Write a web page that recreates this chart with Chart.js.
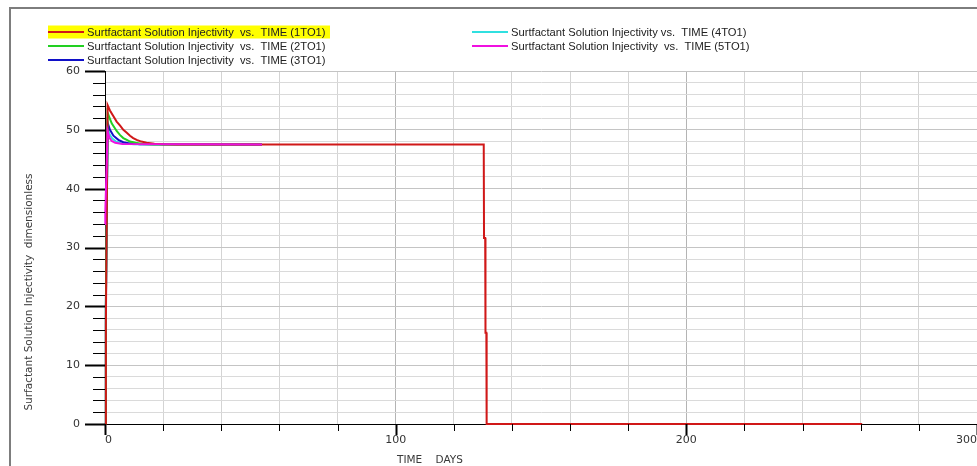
<!DOCTYPE html>
<html>
<head>
<meta charset="utf-8">
<script src="https://cdn.jsdelivr.net/npm/chart.js@4.4.1/dist/chart.umd.min.js"></script>
<style>
  html, body { margin: 0; padding: 0; background: #fff; }
  #wrap { position: relative; width: 977px; height: 466px; }
</style>
</head>
<body>
<div id="wrap"><canvas id="chart"></canvas></div>
<script>
// series labels and colours (as shown in the legend)
const seriesNames = [
  'Surtfactant Solution Injectivity  vs.  TIME (1TO1)',
  'Surtfactant Solution Injectivity  vs.  TIME (2TO1)',
  'Surtfactant Solution Injectivity  vs.  TIME (3TO1)',
  'Surtfactant Solution Injectivity vs.  TIME (4TO1)',
  'Surtfactant Solution Injectivity  vs.  TIME (5TO1)'
];
const seriesColors = ['#d01818', '#22d022', '#1010c8', '#30e0e0', '#f010e0'];

// 1TO1 - runs to the end of injection, then drops to zero
const days1 = [0, 0.3, 0.9, 1.7, 2.9, 4.0, 5.2, 6.3, 7.5, 8.6, 9.7, 10.9, 12.5, 14.3, 17, 20, 25, 130.3, 130.4, 130.8, 130.9, 131.2, 131.3, 260.5];
const inj1  = [0, 17, 54.2, 53.3, 52.3, 51.4, 50.7, 50.0, 49.5, 49.0, 48.6, 48.3, 48.0, 47.8, 47.65, 47.55, 47.5, 47.5, 31.6, 31.6, 15.5, 15.5, 0, 0];

// 2TO1
const days2 = [0, 0.3, 0.9, 2.3, 4.0, 5.2, 6.3, 7.5, 8.6, 10.5, 13, 17, 54];
const inj2  = [0, 20, 52.9, 51.1, 49.8, 49.1, 48.6, 48.3, 48.0, 47.8, 47.6, 47.5, 47.5];

// 3TO1
const days3 = [0, 0.3, 0.9, 1.7, 2.9, 4.6, 6.3, 8.5, 12, 54];
const inj3  = [0, 20, 51.2, 50.0, 49.0, 48.3, 47.9, 47.7, 47.55, 47.5];

// 4TO1
const days4 = [0, 0.3, 0.9, 1.5, 2.5, 3.8, 6, 10, 54];
const inj4  = [0, 20, 50.4, 49.3, 48.5, 48.0, 47.7, 47.55, 47.5];

// 5TO1
const days5 = [0, 0.1, 0.9, 1.5, 2.3, 3.5, 6, 54];
const inj5  = [34, 36, 49.8, 48.7, 48.1, 47.8, 47.6, 47.5];

const allDays = [days1, days2, days3, days4, days5];
const allInj = [inj1, inj2, inj3, inj4, inj5];
const drawOrder = [1, 2, 3, 4, 0]; // 5TO1 sits on top, like the original

const xMin = 0, xMax = 300, xStep = 20, xLabelEvery = 100;
const yMin = 0, yMax = 60, yStep = 2, yLabelEvery = 10;

const xTitle = 'TIME    DAYS';
const yTitle = 'Surfactant Solution Injectivity  dimensionless';

const datasets = seriesNames.map((name, i) => ({
  label: name,
  data: allDays[i].map((d, j) => ({ x: d, y: allInj[i][j] })),
  borderColor: seriesColors[i],
  backgroundColor: seriesColors[i],
  borderWidth: 2,
  pointRadius: 0,
  tension: 0,
  clip: 4,
  order: drawOrder[i]
}));

// frame, legend, tick marks and axis titles
const decorations = {
  id: 'decorations',
  beforeDraw(chart) {
    const ctx = chart.ctx;
    ctx.save();
    ctx.fillStyle = '#fff';
    ctx.fillRect(0, 0, chart.width, chart.height);
    ctx.strokeStyle = '#7d7d7d';
    ctx.lineWidth = 2;
    ctx.beginPath();
    ctx.moveTo(10, chart.height);
    ctx.lineTo(10, 8);
    ctx.lineTo(chart.width, 8);
    ctx.stroke();
    ctx.restore();
  },
  afterDraw(chart) {
    const ctx = chart.ctx;
    const xs = chart.scales.x, ys = chart.scales.y;
    const area = chart.chartArea;
    ctx.save();

    // tick marks
    ctx.strokeStyle = '#000';
    ys.ticks.forEach(t => {
      const major = t.value % yLabelEvery === 0;
      const y = Math.round(ys.getPixelForValue(t.value)) + 0.5;
      ctx.lineWidth = major ? 2 : 1;
      ctx.beginPath();
      ctx.moveTo(area.left - (major ? 20 : 12), y);
      ctx.lineTo(area.left, y);
      ctx.stroke();
    });
    xs.ticks.forEach(t => {
      const major = t.value % xLabelEvery === 0;
      const x = Math.round(xs.getPixelForValue(t.value)) + 0.5;
      ctx.lineWidth = major ? 2 : 1;
      ctx.beginPath();
      ctx.moveTo(x, area.bottom);
      ctx.lineTo(x, area.bottom + (major ? 11 : 7));
      ctx.stroke();
    });

    // axis titles
    ctx.fillStyle = '#3a3a3a';
    ctx.font = '10.5px "DejaVu Sans"';
    ctx.textAlign = 'center';
    ctx.textBaseline = 'middle';
    ctx.fillText(xTitle, 430, 460);
    ctx.save();
    ctx.translate(29, 292);
    ctx.rotate(-Math.PI / 2);
    ctx.fillText(yTitle, 0, 0);
    ctx.restore();

    // legend: two columns, first entry highlighted
    const cols = [{ x: 48, items: [0, 1, 2] }, { x: 472, items: [3, 4] }];
    ctx.font = '11.2px "Liberation Sans", Arial, sans-serif';
    ctx.textAlign = 'left';
    cols.forEach(col => {
      col.items.forEach((idx, r) => {
        const y = 32 + r * 14;
        const ds = chart.data.datasets[idx];
        if (idx === 0) {
          ctx.fillStyle = '#ffff00';
          ctx.fillRect(col.x, y - 6.5, 282, 13);
        }
        ctx.strokeStyle = ds.borderColor;
        ctx.lineWidth = 2;
        ctx.beginPath();
        ctx.moveTo(col.x, y);
        ctx.lineTo(col.x + 36, y);
        ctx.stroke();
        ctx.fillStyle = '#222';
        ctx.fillText(ds.label, col.x + 39, y + 0.5);
      });
    });
    ctx.restore();
  }
};

new Chart(document.getElementById('chart'), {
  type: 'line',
  data: { datasets: datasets },
  plugins: [decorations],
  options: {
    responsive: true,
    maintainAspectRatio: false,
    animation: false,
    layout: { padding: { top: 71, left: 0, right: 0, bottom: 0 } },
    plugins: {
      legend: { display: false },
      tooltip: { enabled: false }
    },
    scales: {
      x: {
        type: 'linear',
        min: xMin,
        max: xMax,
        afterFit: scale => {
          scale.height = 42;
          scale.paddingLeft = 0;
          scale.paddingRight = 0;
        },
        border: { color: '#000', width: 1 },
        grid: {
          drawTicks: false,
          color: ctx => ctx.tick && ctx.tick.value % xLabelEvery === 0 ? '#b4b4b4' : '#d4d4d4'
        },
        ticks: {
          stepSize: xStep,
          autoSkip: false,
          maxRotation: 0,
          align: 'inner',
          padding: 10,
          color: '#333',
          font: { family: 'DejaVu Sans', size: 11 },
          callback: v => (v % xLabelEvery === 0 ? v : '')
        }
      },
      y: {
        min: yMin,
        max: yMax,
        afterFit: scale => { scale.width = 105; },
        border: { color: '#000', width: 1 },
        grid: {
          drawTicks: false,
          color: ctx => ctx.tick && ctx.tick.value % yLabelEvery === 0 ? '#c4c4c4' : '#dadada'
        },
        ticks: {
          stepSize: yStep,
          autoSkip: false,
          padding: 25,
          color: '#333',
          font: { family: 'DejaVu Sans', size: 11 },
          callback: v => (v % yLabelEvery === 0 ? v : '')
        }
      }
    }
  }
});
</script>
</body>
</html>
